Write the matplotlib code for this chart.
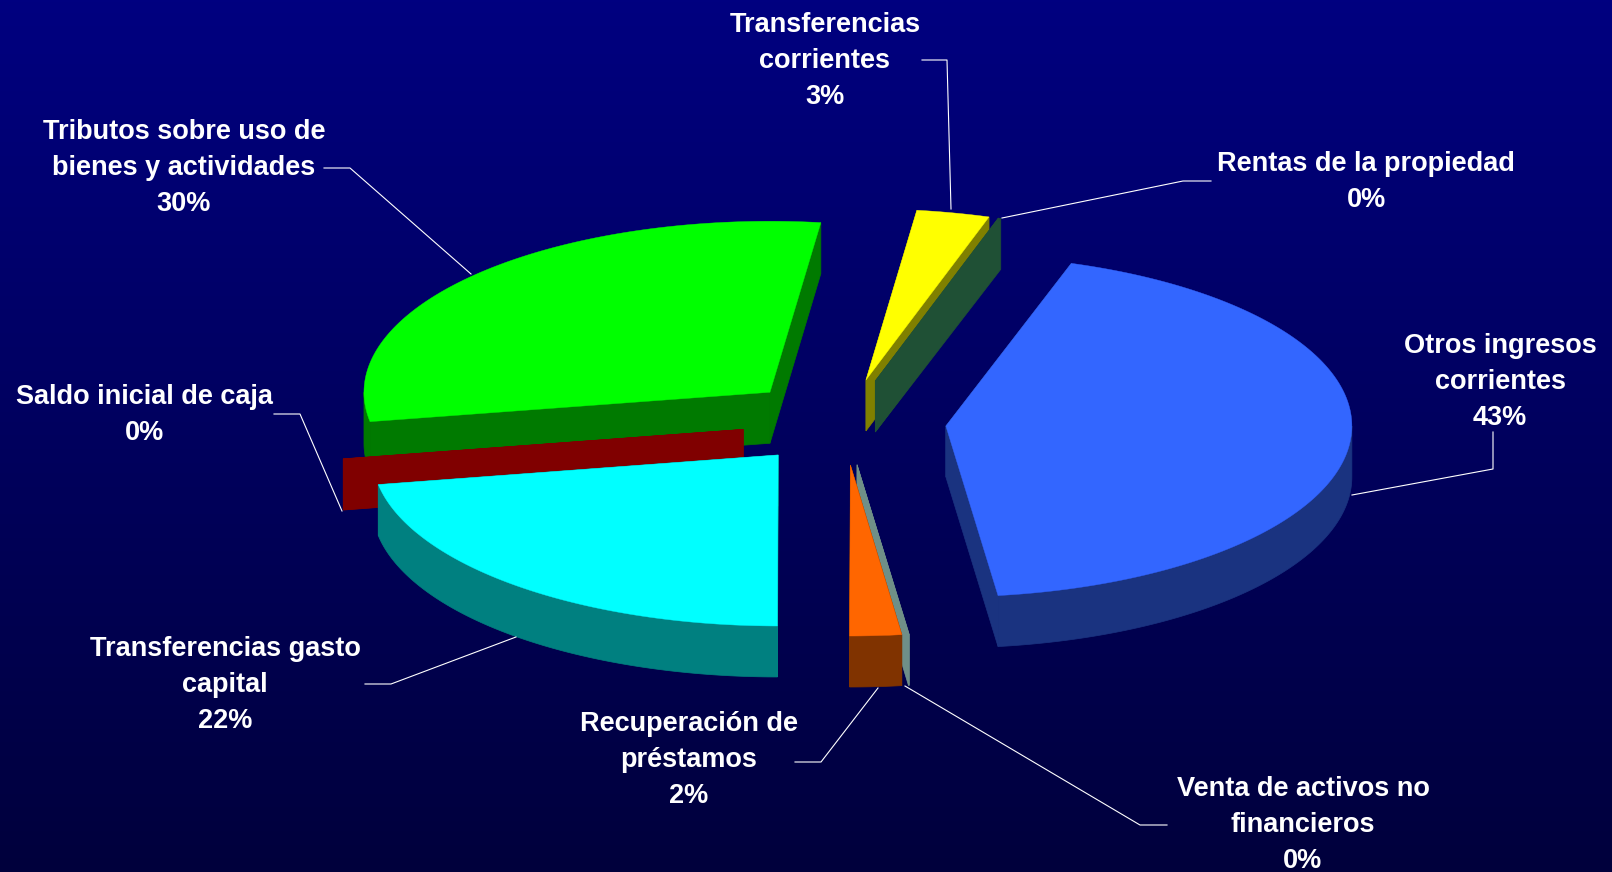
import numpy as np
import matplotlib
matplotlib.use("Agg")
import matplotlib.pyplot as plt
from matplotlib.patches import Rectangle

# Slices, clockwise from the start angle
categories = [
    "Otros ingresos\ncorrientes",
    "Venta de activos no\nfinancieros",
    "Recuperación de\npréstamos",
    "Transferencias gasto\ncapital",
    "Saldo inicial de caja",
    "Tributos sobre uso de\nbienes y actividades",
    "Transferencias\ncorrientes",
    "Rentas de la propiedad",
]
values = [42.95, 0.03, 2.05, 22.2, 0.02, 29.75, 2.9, 0.1]
top_colors = ["#3366FF", "#6F8F88", "#FF6600", "#00FFFF", "#800000", "#00FF00", "#FFFF00", "#1F5035"]
side_colors = ["#1A3380", "#6F8F88", "#803300", "#008080", "#800000", "#007A00", "#808000", "#1F5035"]

# Pie geometry in pixels
W, H = 1612, 872
CX, CY = 844, 422
RX, RY = 406, 171
DEPTH = 51
EXPLODE = 0.252
START = 18.0

# Painter's order, back to front
draw_order = [5, 6, 7, 0, 1, 2, 4, 3]

# Label centre and leader line for each slice
label_pos = [
    (1500, 382), (1303, 825), (689, 760), (225, 685),
    (144, 415), (184, 168), (825, 61), (1366, 182),
]
leaders = [
    [(1493, 432), (1493, 469), (1352, 495)],
    [(1167, 825), (1140, 825), (905, 686)],
    [(795, 762), (821, 762), (878, 688)],
    [(365, 684), (391, 684), (516, 637)],
    [(274, 414), (300, 414), (342, 511)],
    [(324, 168), (350, 168), (471, 274)],
    [(922, 60), (947, 60), (951, 209)],
    [(1211, 181), (1183, 181), (1002, 218)],
]
# Labels that the reference cuts off on the right, slice index to pixel x
clip_right = {1: 1432, 3: 368}

fig = plt.figure(figsize=(W / 100, H / 100), dpi=100)
ax = fig.add_axes([0, 0, 1, 1])

# Background gradient
grad = np.zeros((256, 1, 3))
grad[:, 0, 2] = np.linspace(128, 60, 256) / 255
ax.imshow(grad, extent=(0, W, H, 0), aspect="auto", zorder=0)

fracs = np.array(values) / sum(values)
edges = START + np.concatenate([[0], np.cumsum(fracs)]) * 360

for i in draw_order:
    a, b = edges[i], edges[i + 1]
    mid = np.radians((a + b) / 2)
    ax0 = CX + EXPLODE * RX * np.sin(mid)
    ay0 = CY - EXPLODE * RY * np.cos(mid)
    t = np.radians(np.linspace(a, b, max(int(b - a) * 2, 2)))
    ox = ax0 + RX * np.sin(t)
    oy = ay0 - RY * np.cos(t)

    # Cut faces
    for k in (0, -1):
        ax.fill(
            [ax0, ox[k], ox[k], ax0],
            [ay0, oy[k], oy[k] + DEPTH, ay0 + DEPTH],
            color=side_colors[i], lw=0.5, zorder=2,
        )
    # Outer wall, only the part that faces the viewer
    lo, hi = max(a, 90), min(b, 270)
    if hi > lo:
        tw = np.radians(np.linspace(lo, hi, 120))
        wx = ax0 + RX * np.sin(tw)
        wy = ay0 - RY * np.cos(tw)
        ax.fill(
            np.r_[wx, wx[::-1]], np.r_[wy, wy[::-1] + DEPTH],
            color=side_colors[i], lw=0.5, zorder=2,
        )
    ax.fill(np.r_[ax0, ox], np.r_[ay0, oy], color=top_colors[i], lw=0.3, zorder=2)

for i, (name, v, (lx, ly), pts) in enumerate(zip(categories, values, label_pos, leaders)):
    txt = ax.text(
        lx, ly, f"{name}\n{round(v)}%", color="white", fontsize=19.5, fontweight="bold",
        family="Liberation Sans", ha="center", va="center", linespacing=1.5, zorder=4,
    )
    if i in clip_right:
        txt.set_clip_path(Rectangle((0, 0), clip_right[i], H, transform=ax.transData))
    xs, ys = zip(*pts)
    ax.plot(xs, ys, color="white", lw=0.8, zorder=3)

ax.set_xlim(0, W)
ax.set_ylim(H, 0)
ax.axis("off")
fig.savefig("out.png", dpi=100)
